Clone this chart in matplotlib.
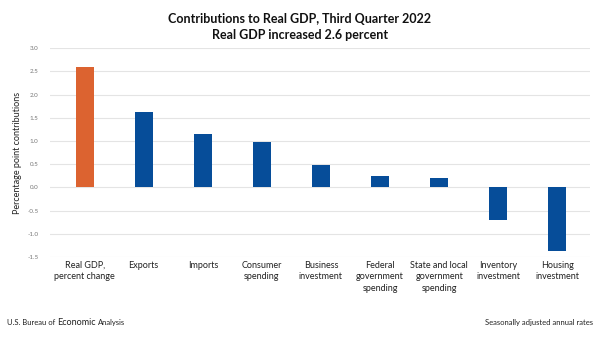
import matplotlib
matplotlib.use("Agg")
import matplotlib.pyplot as plt
from matplotlib.transforms import offset_copy
import numpy as np

categories = ["Real GDP,\npercent change", "Exports", "Imports", "Consumer\nspending",
              "Business\ninvestment", "Federal\ngovernment\nspending",
              "State and local\ngovernment\nspending", "Inventory\ninvestment",
              "Housing\ninvestment"]
values = [2.6, 1.63, 1.15, 0.97, 0.49, 0.24, 0.20, -0.70, -1.37]
yticks = [-1.5, -1.0, -0.5, 0.0, 0.5, 1.0, 1.5, 2.0, 2.5, 3.0]

plt.rcParams['font.family'] = ['Lato', 'DejaVu Sans']

fig = plt.figure(figsize=(6, 3.37), dpi=100)
ax = fig.add_axes([0.083, 0.237, 0.9, 0.62])

x = np.arange(len(categories))
colors = ["#DC6330"] + ["#064D99"] * (len(categories) - 1)
ax.bar(x, values, width=0.3, color=colors, zorder=3)

ax.set_ylim(-1.5, 3.0)
ax.set_xlim(-0.59, 8.55)
ax.set_yticks(yticks)
ax.set_yticklabels([f"{t:.1f}" for t in yticks], fontsize=4.5, color="#777777")
ax.grid(axis="y", color="#e4e4e4", linewidth=0.8, zorder=0)
ax.tick_params(axis="y", length=0, pad=8)
ax.set_xticks([])
for s in ax.spines.values():
    s.set_visible(False)

for xi, lab in zip(x, categories):
    ax.text(xi, -1.58, lab, ha="center", va="top", fontsize=6.5, color="#222222",
            linespacing=1.35)

ax.set_ylabel("Percentage point contributions", fontsize=6.5, color="#222222")
ax.yaxis.set_label_coords(-0.052, 0.5)

fig.text(0.5, 0.945, "Contributions to Real GDP, Third Quarter 2022", ha="center",
         va="center", fontsize=9, fontweight="bold", color="#111111")
fig.text(0.5, 0.895, "Real GDP increased 2.6 percent", ha="center",
         va="center", fontsize=9, fontweight="bold", color="#111111")

# footer: chain the three pieces so they sit next to each other
renderer = fig.canvas.get_renderer()
t1 = fig.text(0.012, 0.035, "U.S. Bureau of", ha="left", va="baseline", fontsize=5.5,
              color="#222222")
w1 = t1.get_window_extent(renderer).width
t2 = fig.text(0.012, 0.035, "Economic", ha="left", va="baseline", fontsize=6.5,
              color="#222222",
              transform=offset_copy(fig.transFigure, fig=fig, x=w1 + 2, units="dots"))
w2 = t2.get_window_extent(renderer).width
fig.text(0.012, 0.035, "Analysis", ha="left", va="baseline", fontsize=5.5,
         color="#222222",
         transform=offset_copy(fig.transFigure, fig=fig, x=w1 + w2 + 4, units="dots"))
fig.text(0.988, 0.035, "Seasonally adjusted annual rates", ha="right", va="baseline",
         fontsize=5.5, color="#222222")

fig.savefig("out.png", dpi=100)
